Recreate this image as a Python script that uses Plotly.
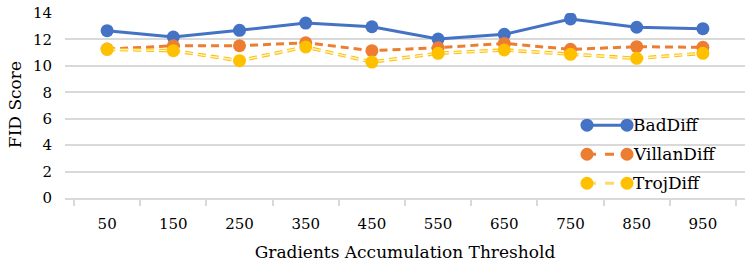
import plotly.graph_objects as go

thresholds = ["50", "150", "250", "350", "450", "550", "650", "750", "850", "950"]
baddiff = [12.66, 12.18, 12.69, 13.24, 12.96, 12.03, 12.39, 13.55, 12.92, 12.81]
villandiff = [11.27, 11.52, 11.52, 11.75, 11.15, 11.37, 11.70, 11.25, 11.45, 11.40]
trojdiff = [11.25, 11.15, 10.39, 11.43, 10.29, 10.95, 11.20, 10.87, 10.57, 10.95]
series_names = ["BadDiff", "VillanDiff", "TrojDiff"]
y_ticks = [0, 2, 4, 6, 8, 10, 12, 14]
x_title = "Gradients Accumulation Threshold"
y_title = "FID Score"

BLUE = "#4472C4"
ORANGE = "#ED7D31"
YELLOW = "#FFC000"
PALE = "#FFF2CC"
FONT = "DejaVu Serif"

fig = go.Figure()
fig.add_trace(go.Scatter(x=thresholds, y=baddiff, mode="lines+markers", name=series_names[0],
                         line=dict(color=BLUE, width=3),
                         marker=dict(color=BLUE, size=13)))
fig.add_trace(go.Scatter(x=thresholds, y=villandiff, mode="lines+markers", name=series_names[1],
                         line=dict(color=ORANGE, width=3, dash="8px,5px"),
                         marker=dict(color=ORANGE, size=13)))
fig.add_trace(go.Scatter(x=thresholds, y=trojdiff, mode="lines", name=series_names[2],
                         line=dict(color=YELLOW, width=3.5, dash="8px,5px"), showlegend=False))
fig.add_trace(go.Scatter(x=thresholds, y=trojdiff, mode="lines", name=series_names[2],
                         line=dict(color=PALE, width=1.4, dash="8px,5px"), showlegend=False))
fig.add_trace(go.Scatter(x=thresholds, y=trojdiff, mode="markers", name=series_names[2],
                         marker=dict(color=YELLOW, size=13), showlegend=False))

FW, FH = 750, 264
L, R, T, B = 65, 745, 13, 197.7
W, H = R - L, B - T


def px2paper(px, py):
    return (px - L) / W, (B - py) / H


legend_items = [
    (series_names[0], BLUE, BLUE, "solid", 125),
    (series_names[1], ORANGE, ORANGE, "dash", 154),
    (series_names[2], YELLOW, "#FFD966", "dash", 183),
]
shapes = []
annotations = []
for name, mcol, lcol, dash, py in legend_items:
    xa, ya = px2paper(587, py)
    xb, _ = px2paper(627, py)
    shapes.append(dict(type="line", xref="paper", yref="paper", x0=xa, x1=xb, y0=ya, y1=ya,
                       line=dict(color=lcol, width=3, dash=dash), layer="above"))
    for xc in (xa, xb):
        shapes.append(dict(type="circle", xref="paper", yref="paper", xsizemode="pixel",
                           ysizemode="pixel", xanchor=xc, yanchor=ya, x0=-6.5, x1=6.5,
                           y0=-6.5, y1=6.5, fillcolor=mcol, line=dict(width=0), layer="above"))
    xt, _ = px2paper(631, py)
    annotations.append(dict(x=xt, y=ya, xref="paper", yref="paper", text=name, showarrow=False,
                            xanchor="left", yanchor="middle",
                            font=dict(family=FONT, size=17, color="#000000")))

# y-axis title as a rotated annotation, centred at screen (15, 105)
yx, yy = px2paper(15, 105)
annotations.append(dict(x=yx, y=yy, xref="paper", yref="paper", text=y_title, showarrow=False,
                        textangle=-90, xanchor="center", yanchor="middle",
                        font=dict(family=FONT, size=17, color="#000000")))

fig.update_layout(
    width=FW, height=FH,
    margin=dict(l=L, r=FW - R, t=T, b=FH - B, autoexpand=False),
    plot_bgcolor="white", paper_bgcolor="white",
    showlegend=False,
    font=dict(family=FONT, color="#000000"),
    shapes=shapes, annotations=annotations,
)
fig.update_xaxes(
    type="category", tickson="boundaries", ticks="outside", ticklen=6, tickcolor="#D9D9D9",
    tickwidth=1.5, showline=True, linecolor="#D9D9D9", linewidth=1.5, showgrid=False,
    automargin=False, ticklabelstandoff=11,
    tickfont=dict(family=FONT, size=15, color="#000000"),
    title=dict(text=x_title, font=dict(family=FONT, size=17), standoff=14),
)
fig.update_yaxes(
    range=[0, 14], tickvals=y_ticks, showgrid=True, gridcolor="#D9D9D9", gridwidth=1.5,
    zeroline=False, showline=False, ticks="", ticklabelstandoff=12, automargin=False,
    ticklabeloverflow="allow",
    tickfont=dict(family=FONT, size=15, color="#000000"),
)

fig.write_html("out.html", config={"displayModeBar": False},
               post_script="document.body.style.margin='0';")
